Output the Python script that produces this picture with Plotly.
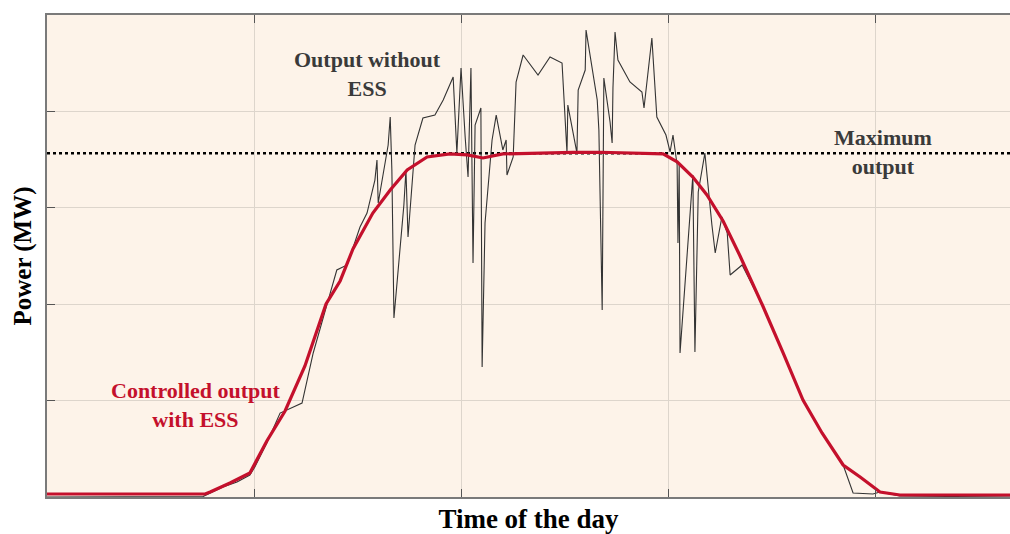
import plotly.graph_objects as go

# ---- data (hours, MW) ----
ctrl_time = [0, 3.82, 3.94, 4.42, 4.90, 5.31, 5.75, 6.23, 6.74, 7.08, 7.39, 7.87, 8.29,
             8.70, 9.18, 9.73, 10.15, 10.53, 11.01, 11.91, 12.71, 13.36, 14.15, 14.88,
             15.22, 15.60, 15.94, 16.33, 16.74, 17.29, 17.78, 18.26, 18.72, 19.23, 19.64,
             20.12, 20.60, 23.26]
ctrl_power = [0.31, 0.31, 0.52, 1.45, 2.49, 5.81, 8.92, 13.59, 20.02, 22.41, 25.73, 29.46,
              31.85, 33.92, 35.27, 35.59, 35.49, 35.17, 35.59, 35.69, 35.74, 35.76, 35.69,
              35.59, 34.76, 33.19, 31.33, 28.63, 25.0, 19.81, 14.94, 10.06, 6.64, 3.32,
              2.07, 0.52, 0.21, 0.21]

raw_time = [0, 3.45, 3.77, 4.25, 4.59, 4.90, 5.02, 5.31, 5.63, 6.16, 6.43, 6.76, 7.00, 7.25,
            7.56, 7.73, 7.92, 7.97, 8.00, 8.24, 8.29, 8.33, 8.38, 8.62, 8.67, 8.72, 8.89,
            9.08, 9.37, 9.57, 9.81, 9.90, 10.00, 10.10, 10.17, 10.24, 10.27, 10.29, 10.34,
            10.48, 10.51, 10.58, 10.75, 10.85, 11.01, 11.09, 11.11, 11.26, 11.33, 11.50,
            11.86, 12.15, 12.44, 12.56, 12.58, 12.68, 12.80, 12.83, 13.00, 13.02, 13.29,
            13.33, 13.41, 13.45, 13.60, 13.65, 13.67, 13.72, 13.79, 14.08, 14.37, 14.42,
            14.61, 14.73, 14.95, 15.05, 15.12, 15.22, 15.24, 15.27, 15.29, 15.60, 15.65,
            15.73, 15.89, 16.06, 16.14, 16.30, 16.43, 16.50, 16.79, 17.29, 17.78, 18.26,
            18.72, 19.23, 19.47, 19.95, 20.12, 20.60, 23.26]
raw_power = [0, 0, 0.05, 1.04, 1.56, 2.28, 3.11, 5.60, 8.71, 9.75, 14.94, 19.92, 23.55, 24.07,
             28.01, 29.46, 32.88, 34.96, 30.50, 36.51, 39.42, 33.92, 18.57, 30.29, 33.92,
             26.97, 36.51, 39.31, 39.62, 41.18, 43.57, 35.68, 44.50, 37.34, 33.19, 44.50,
             27.70, 24.27, 38.59, 40.35, 13.48, 28.42, 37.03, 39.62, 36.0, 37.03, 33.40,
             35.27, 43.05, 45.85, 43.77, 45.64, 45.02, 35.68, 40.66, 38.38, 35.68, 42.22,
             44.29, 48.44, 41.18, 38.07, 19.40, 43.46, 38.90, 36.72, 42.43, 48.23, 45.33,
             43.05, 42.01, 40.35, 47.61, 39.42, 37.55, 35.79, 37.55, 34.44, 26.35, 34.44,
             14.94, 33.40, 15.04, 31.64, 35.68, 28.21, 25.31, 29.04, 27.38, 23.03, 24.07,
             19.81, 14.94, 10.06, 6.64, 3.32, 0.41, 0.31, 0.52, 0.10, 0]

max_output = 35.65
x_range = [0, 23.26]
y_range = [0, 50]
x_ticks = [5, 10, 15, 20]
y_ticks = [10, 20, 30, 40]

SERIF = "Liberation Serif, Times New Roman, serif"
RED = "#c4102c"
TXT = "#3a3a3a"

fig = go.Figure()
fig.add_trace(go.Scatter(x=x_range, y=[max_output, max_output], mode="lines",
                         line=dict(color="black", width=2.5, dash="dot"),
                         hoverinfo="skip", showlegend=False))
fig.add_trace(go.Scatter(x=raw_time, y=raw_power, mode="lines",
                         line=dict(color="#333333", width=1.1),
                         showlegend=False))
fig.add_trace(go.Scatter(x=ctrl_time, y=ctrl_power, mode="lines",
                         line=dict(color=RED, width=3.2),
                         showlegend=False))

fig.add_annotation(x=7.75, y=43.9, xref="x", yref="y", showarrow=False,
                   text="<b>Output without<br>ESS</b>",
                   font=dict(family=SERIF, size=22, color=TXT), align="center")
fig.add_annotation(x=20.19, y=35.8, xref="x", yref="y", showarrow=False,
                   text="<b>Maximum<br>output</b>",
                   font=dict(family=SERIF, size=22, color=TXT), align="center")
fig.add_annotation(x=3.60, y=9.54, xref="x", yref="y", showarrow=False,
                   text="<b>Controlled output<br>with ESS</b>",
                   font=dict(family=SERIF, size=22, color=RED), align="center")

fig.update_layout(
    width=1010, height=534,
    margin=dict(l=47, r=0, t=15, b=37),
    paper_bgcolor="white",
    plot_bgcolor="#fdf3e9",
    font=dict(family=SERIF, color="black"),
)
fig.update_xaxes(range=x_range, tickvals=x_ticks, showticklabels=False,
                 showgrid=True, gridcolor="#ddd5cc", gridwidth=1,
                 showline=True, linecolor="#7a7a7a", linewidth=1.6, mirror="ticks",
                 ticks="inside", ticklen=8, tickcolor="#555555", tickwidth=1.2,
                 zeroline=False, automargin=False,
                 title=dict(text="<b>Time of the day</b>", standoff=13,
                            font=dict(family=SERIF, size=27, color="black")))
fig.update_yaxes(range=y_range, tickvals=y_ticks, showticklabels=False,
                 showgrid=True, gridcolor="#ddd5cc", gridwidth=1,
                 showline=True, linecolor="#7a7a7a", linewidth=1.6, mirror=False,
                 ticks="inside", ticklen=8, tickcolor="#555555", tickwidth=1.2,
                 zeroline=False, automargin=False,
                 title=dict(text="<b>Power (MW)</b>", standoff=6,
                            font=dict(family=SERIF, size=25, color="black")))

post = ("document.documentElement.style.margin='0';"
        "document.body.style.margin='0';document.body.style.overflow='hidden';"
        "var gd=document.getElementById('{plot_id}');"
        "Plotly.relayout(gd,{width:1010,height:534});")

fig.write_html("out.html", post_script=post, config={"displayModeBar": False})
